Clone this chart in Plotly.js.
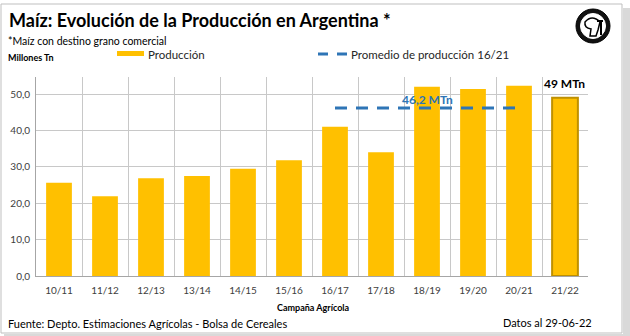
<!DOCTYPE html>
<html>
<head>
<meta charset="utf-8">
<script src="https://cdn.plot.ly/plotly-3.0.1.min.js"></script>
<style>html,body{margin:0;padding:0;background:#fff;}#chart{width:630px;height:336px;}</style>
</head>
<body>
<div id="chart"></div>
<script>
const campaigns = ["10/11","11/12","12/13","13/14","14/15","15/16","16/17","17/18","18/19","19/20","20/21","21/22"];
const production = [25.6, 21.9, 26.9, 27.5, 29.5, 31.8, 41.0, 34.0, 52.0, 51.4, 52.3, 49.0];
const avgCampaigns = ["16/17","17/18","18/19","19/20","20/21"];
const avgValue = 46.2;
const avgLine = avgCampaigns.map(() => avgValue);
const yTicks = [0,10,20,30,40,50];
const yTickText = ["0,0","10,0","20,0","30,0","40,0","50,0"];

const W = 630, H = 336, L = 36, R = 42, T = 77, B = 60;
const pw = W - L - R, ph = H - T - B;
const px = x => (x - L) / pw;
const py = y => (H - B - y) / ph;
const FONT = "Lato, 'Open Sans', sans-serif";
const lastIdx = production.length - 1;

const traces = [
  {
    type: "bar", x: campaigns, y: production, name: "Producción",
    marker: {
      color: production.map(() => "#FFC000"),
      line: {color: production.map((v, i) => i === lastIdx ? "#BF9000" : "rgba(0,0,0,0)"), width: 2}
    },
    width: 0.56, showlegend: false, hoverinfo: "x+y"
  },
  {
    type: "scatter", mode: "lines", x: avgCampaigns, y: avgLine, name: "Promedio de producción 16/21",
    line: {color: "#2E75B6", width: 3, dash: "12px,9px"}, showlegend: false
  }
];

const ann = (text, x, y, opts) => Object.assign({
  text, x: px(x), y: py(y), xref: "paper", yref: "paper", showarrow: false,
  xanchor: "left", yanchor: "middle", font: {family: FONT, size: 11, color: "#000"}
}, opts || {});

const layout = {
  width: W, height: H,
  margin: {l: L, r: R, t: T, b: B},
  paper_bgcolor: "#fff", plot_bgcolor: "#fff",
  title: {text: "<b>Maíz: Evolución de la Producción en Argentina *</b>", x: 9 / W, xanchor: "left", y: 1 - 21 / H, yanchor: "middle",
          font: {family: FONT, size: 18, color: "#000"}},
  xaxis: {
    type: "category", tickson: "boundaries", showgrid: true, gridcolor: "#c8c8c8", gridwidth: 1,
    ticks: "", showline: true, linecolor: "#a6a6a6", ticklabelstandoff: 5,
    tickfont: {family: FONT, size: 10, color: "#404040"},
    range: [-0.5, 11.5], fixedrange: true
  },
  yaxis: {
    range: [0, 54.7], tickvals: yTicks, ticktext: yTickText, showgrid: true, gridcolor: "#c8c8c8",
    zeroline: false, showline: true, linecolor: "#a6a6a6", ticks: "", ticklabelstandoff: 3,
    tickfont: {family: FONT, size: 10, color: "#404040"}, ticklen: 0, fixedrange: true
  },
  bargap: 0.44,
  showlegend: false,
  shapes: [
    {type: "rect", xref: "paper", yref: "paper", x0: px(1), x1: px(622), y0: py(4), y1: py(333),
     line: {color: "#bfbfbf", width: 1}, fillcolor: "rgba(0,0,0,0)", layer: "below"},
    {type: "rect", xref: "paper", yref: "paper", x0: px(623), x1: px(630), y0: py(8), y1: py(336),
     line: {width: 0}, fillcolor: "#d9d9d9", layer: "below"},
    {type: "rect", xref: "paper", yref: "paper", x0: px(4), x1: px(630), y0: py(334), y1: py(336),
     line: {width: 0}, fillcolor: "#d9d9d9", layer: "below"},
    {type: "rect", xref: "paper", yref: "paper", x0: px(117), x1: px(144), y0: py(51), y1: py(56),
     line: {width: 0}, fillcolor: "#FFC000"},
    {type: "line", xref: "paper", yref: "paper", x0: px(318), x1: px(348), y0: py(54), y1: py(54),
     line: {color: "#2E75B6", width: 3, dash: "10px,9px"}},
    {type: "circle", xref: "paper", yref: "paper", x0: px(576), x1: px(610), y0: py(9), y1: py(43),
     line: {color: "#000", width: 1}, fillcolor: "#111"},
    {type: "circle", xref: "paper", yref: "paper", x0: px(580.5), x1: px(605.5), y0: py(13.5), y1: py(38.5),
     line: {color: "#fff", width: 1}, fillcolor: "#fff"},
    {type: "path", xref: "paper", yref: "paper",
     path: `M ${px(585)} ${py(22)} Q ${px(592)} ${py(14)} ${px(600)} ${py(22)} L ${px(598)} ${py(30)} L ${px(596)} ${py(36)} L ${px(590)} ${py(36)} L ${px(591)} ${py(29)} Q ${px(584)} ${py(28)} ${px(585)} ${py(22)} Z`,
     line: {color: "#000", width: 1.5}, fillcolor: "#fff"},
    {type: "line", xref: "paper", yref: "paper", x0: px(601), x1: px(601), y0: py(21), y1: py(35),
     line: {color: "#000", width: 2}},
    {type: "line", xref: "paper", yref: "paper", x0: px(597), x1: px(603), y0: py(21), y1: py(21),
     line: {color: "#000", width: 2}}
  ],
  annotations: [
    ann("*Maíz con destino grano comercial", 6, 41, {font: {family: FONT, size: 10.5, color: "#000"}}),
    ann("<b>Millones Tn</b>", 6, 58, {font: {family: FONT, size: 9, color: "#000"}}),
    ann("Producción", 146, 54, {font: {family: FONT, size: 11.5, color: "#262626"}}),
    ann("Promedio de producción 16/21", 349, 54, {font: {family: FONT, size: 11.5, color: "#262626"}}),
    ann("<b>46,2 MTn</b>", 427, 99, {xanchor: "center", font: {family: FONT, size: 12, color: "#2E75B6"}}),
    ann("<b>49 MTn</b>", 564, 83, {xanchor: "center", font: {family: FONT, size: 12, color: "#000"}}),
    ann("<b>Campaña Agrícola</b>", 313, 307, {xanchor: "center", font: {family: FONT, size: 9, color: "#000"}}),
    ann("Fuente: Depto. Estimaciones Agrícolas - Bolsa de Cereales", 6, 323, {font: {family: FONT, size: 11, color: "#000"}}),
    ann("Datos al 29-06-22", 594, 322, {xanchor: "right", font: {family: FONT, size: 11, color: "#000"}})
  ]
};

Plotly.newPlot("chart", traces, layout, {displayModeBar: false, staticPlot: true});
</script>
</body>
</html>
